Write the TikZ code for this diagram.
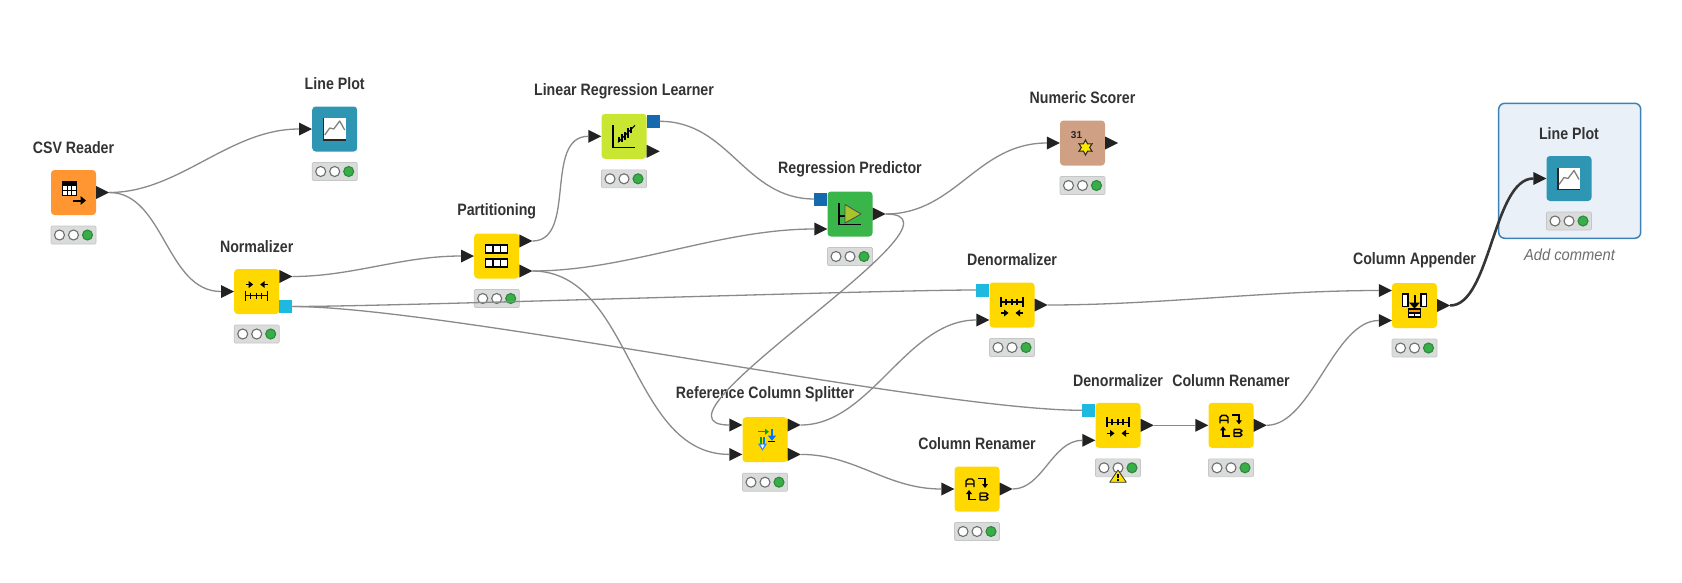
\documentclass[tikz,border=0pt]{standalone}
\usepackage{fontspec}
\setmainfont{Liberation Sans}
\newfontfamily\lblfont[FakeStretch=0.86]{Liberation Sans}
\newfontfamily\cmtfont[FakeStretch=0.92]{Liberation Sans}
\usetikzlibrary{shapes.geometric}
\definecolor{manip}{HTML}{FFD800}
\definecolor{reader}{HTML}{FF9632}
\definecolor{viewc}{HTML}{2E95B3}
\definecolor{learner}{HTML}{C8E632}
\definecolor{predictor}{HTML}{3AB54A}
\definecolor{scorer}{HTML}{CFA084}
\definecolor{flowlight}{HTML}{1EB9E0}
\definecolor{flowdark}{HTML}{1469AF}
\definecolor{portc}{HTML}{222222}
\definecolor{edgec}{HTML}{8A8A8A}
\definecolor{edgedark}{HTML}{353535}
\definecolor{labelc}{HTML}{333333}
\definecolor{statusbg}{HTML}{D9DCDB}
\definecolor{statusln}{HTML}{C4C7C6}
\definecolor{lampring}{HTML}{6E6E6E}
\definecolor{lampgreen}{HTML}{38AD4A}
\definecolor{selfill}{HTML}{E9F0F7}
\definecolor{selline}{HTML}{3C82B6}
\definecolor{cmtc}{HTML}{6E6E6E}
\tikzset{
  knode/.style={draw=none,rounded corners=3.5pt,minimum size=45pt,inner sep=0pt},
  nlabel/.style={font=\lblfont\bfseries\fontsize{16.5}{18}\selectfont,text=labelc,inner sep=0pt,anchor=center},
  conn/.style={draw=edgec,line width=1.3pt},
  connsel/.style={draw=edgedark,line width=2.6pt},
  statusbox/.style={fill=statusbg,draw=statusln,line width=.6pt,rounded corners=1pt},
  lampoff/.style={draw=lampring,fill=white,line width=1.1pt},
  lampon/.style={draw=lampgreen!80!black,fill=lampgreen,line width=1.1pt},
  ink/.style={draw=black,line width=1.5pt},
  inkthin/.style={draw=black,line width=1pt},
}
% node with label and status lamps
\newcommand{\knime}[5]{%
  \node[knode,fill=#4] (#1) at (#2,#3) {};
  \node[nlabel] (#1-label) at ([yshift=45pt]#1.center) {#5};
  \begin{scope}[shift={(#1.center)}]
    \draw[statusbox] (-22.5,33.5) rectangle (22.5,51.5);
    \draw[lampoff] (-14,42.5) circle (5);
    \draw[lampoff] (0,42.5) circle (5);
    \draw[lampon] (14,42.5) circle (5);
  \end{scope}}
\newcommand{\inport}[3]{%
  \coordinate (#1) at ([xshift=-13pt,yshift=#3]#2.west);
  \fill[portc] ([yshift=6.5pt]#1) -- ([yshift=-6.5pt]#1) -- ([xshift=13pt]#1) -- cycle;}
\newcommand{\outport}[3]{%
  \coordinate (#1) at ([xshift=13pt,yshift=#3]#2.east);
  \fill[portc] ([xshift=-13pt,yshift=6.5pt]#1) -- ([xshift=-13pt,yshift=-6.5pt]#1) -- (#1) -- cycle;}
\newcommand{\flowin}[4]{%
  \coordinate (#1) at ([xshift=-13pt,yshift=#3]#2.west);
  \fill[#4] ([yshift=6.5pt]#1) rectangle ([xshift=13pt,yshift=-6.5pt]#1);}
\newcommand{\flowout}[4]{%
  \coordinate (#1) at ([xshift=13pt,yshift=#3]#2.east);
  \fill[#4] ([yshift=6.5pt]#1) rectangle ([xshift=-13pt,yshift=-6.5pt]#1);}
\newcommand{\edge}[3]{\draw[conn] (#1) .. controls +(#3,0) and +(-#3,0) .. (#2);}
% icons
\newcommand{\lineploticon}[1]{\begin{scope}[shift={(#1.center)}]
  \fill[white] (-11,-11) rectangle (11,11);
  \draw[draw=black!85,line width=1.4pt] (-11,-11) -- (-11,11) -- (11,11);
  \draw[draw=black!50,line width=1.3pt,line join=round] (-10,6) -- (-5,-1) -- (-1,0) -- (5,-8) -- (10,1);
\end{scope}}
\newcommand{\normticks}[1]{%
  \draw[inkthin,line width=1.2pt] (-11,#1) -- (11,#1);
  \foreach \q in {-11,11} \draw[black,line width=1.3pt] (\q,#1-5) -- (\q,#1+5);
  \foreach \q in {-6,0,5} \draw[black,line width=1.5pt] (\q,#1-3) -- (\q,#1+3);}
\newcommand{\normarrows}[1]{%
  \draw[ink] (-11,#1) -- (-7,#1); \fill (-8,#1-3.5) -- (-3.5,#1) -- (-8,#1+3.5) -- cycle;
  \draw[ink] (11,#1) -- (7,#1); \fill (8,#1-3.5) -- (3.5,#1) -- (8,#1+3.5) -- cycle;}
\newcommand{\renamericon}[1]{\begin{scope}[shift={(#1.center)}]
  \draw[inkthin,line width=1.4pt,line join=round] (-11,-2) -- (-11,-8) -- (-9,-10) -- (-5,-10) -- (-3,-8) -- (-3,-2) (-11,-5) -- (-3,-5);
  \draw[inkthin,line width=1.4pt] (1,-10.5) -- (8,-10.5) -- (8,-4);
  \fill (5,-5) -- (11,-5) -- (8,-1) -- cycle;
  \draw[inkthin,line width=1.4pt] (-8,4) -- (-8,10.5) -- (-1,10.5);
  \fill (-11,5) -- (-5,5) -- (-8,1) -- cycle;
  \draw[inkthin,line width=1.4pt,line join=round] (3,4) -- (3,11) -- (9,11) -- (11,9.5) -- (9,7.5) -- (3,7.5) (9,7.5) -- (11,5.5) -- (9,4) -- (3,4);
\end{scope}}
\begin{document}
\begin{tikzpicture}[x=1pt,y=-1pt]
\useasboundingbox (0,0) rectangle (1682,582);
\fill[white] (0,0) rectangle (1682,582);
% selected node frame
\draw[fill=selfill,draw=selline,line width=1.5pt,rounded corners=6pt] (1498.7,103.3) rectangle (1640.7,238.3);
\node[font=\cmtfont\itshape\fontsize{16}{18}\selectfont,text=cmtc,inner sep=0pt] (comment) at (1569.5,255) {Add comment};

\knime{csv}{73.5}{192.5}{reader}{CSV Reader}
\knime{lp}{334.7}{129}{viewc}{Line Plot}
\knime{norm}{256.7}{291.5}{manip}{Normalizer}
\knime{part}{496.7}{256}{manip}{Partitioning}
\knime{lrl}{624}{136.3}{learner}{Linear Regression Learner}
\knime{pred}{850}{214}{predictor}{Regression Predictor}
\knime{score}{1082.5}{143}{scorer}{Numeric Scorer}
\knime{dn}{1012}{305}{manip}{Denormalizer}
\knime{split}{765}{439.7}{manip}{Reference Column Splitter}
\knime{crA}{977}{489}{manip}{Column Renamer}
\knime{dnB}{1118}{425.3}{manip}{Denormalizer}
\knime{crB}{1231}{425.3}{manip}{Column Renamer}
\knime{app}{1414.5}{305.5}{manip}{Column Appender}
\knime{lpB}{1569}{178.5}{viewc}{Line Plot}

% warning sign on the second denormalizer
\begin{scope}[shift={(dnB.center)}]
  \fill[draw=black!80,line width=.8pt,fill=yellow!85!orange,line join=round] (0,44.7) -- (8.3,57) -- (-8.3,57) -- cycle;
  \draw[black,line width=1.1pt] (0,48.5) -- (0,52.5) (0,54) -- (0,55.2);
\end{scope}

% connectors
\outport{csv-o}{csv}{0pt}
\inport{lp-i}{lp}{0pt}
\inport{norm-i}{norm}{0pt}
\outport{norm-o}{norm}{15pt}
\flowout{norm-f}{norm}{-15pt}{flowlight}
\inport{part-i}{part}{0pt}
\outport{part-a}{part}{15pt}
\outport{part-b}{part}{-15pt}
\inport{lrl-i}{lrl}{0pt}
\flowout{lrl-f}{lrl}{15pt}{flowdark}
\outport{lrl-o}{lrl}{-15pt}
\flowin{pred-f}{pred}{15pt}{flowdark}
\inport{pred-i}{pred}{-15pt}
\outport{pred-o}{pred}{0pt}
\inport{score-i}{score}{0pt}
\outport{score-o}{score}{0pt}
\flowin{dn-f}{dn}{15pt}{flowlight}
\inport{dn-i}{dn}{-15pt}
\outport{dn-o}{dn}{0pt}
\inport{split-a}{split}{14.7pt}
\inport{split-b}{split}{-14.7pt}
\outport{split-c}{split}{14.7pt}
\outport{split-d}{split}{-14.7pt}
\inport{crA-i}{crA}{0pt}
\outport{crA-o}{crA}{0pt}
\flowin{dnB-f}{dnB}{15pt}{flowlight}
\inport{dnB-i}{dnB}{-15pt}
\outport{dnB-o}{dnB}{0pt}
\inport{crB-i}{crB}{0pt}
\outport{crB-o}{crB}{0pt}
\inport{app-a}{app}{15pt}
\inport{app-b}{app}{-15pt}
\outport{app-o}{app}{0pt}
\inport{lpB-i}{lpB}{0pt}

\edge{csv-o}{lp-i}{70}
\edge{csv-o}{norm-i}{55}
\edge{norm-o}{part-i}{60}
\edge{norm-f}{dn-f}{100}
\edge{norm-f}{dnB-f}{150}
\edge{part-a}{lrl-i}{45}
\edge{part-b}{pred-i}{95}
\edge{part-b}{split-b}{100}
\edge{lrl-f}{pred-f}{70}
\edge{pred-o}{score-i}{70}
\edge{pred-o}{split-a}{100}
\edge{dn-o}{app-a}{110}
\edge{split-c}{dn-i}{70}
\edge{split-d}{crA-i}{55}
\edge{crA-o}{dnB-i}{30}
\edge{dnB-o}{crB-i}{8}
\edge{crB-o}{app-b}{45}
\draw[connsel] (app-o) .. controls +(40,0) and +(-40,0) .. (lpB-i);

% icons
\begin{scope}[shift={(csv.center)}]
  \fill[white] (-11,-11) rectangle (3,3);
  \fill[black] (-11,-11) rectangle (3,-7);
  \draw[inkthin] (-11,-11) rectangle (3,3) (-11,-2) -- (3,-2) (-6.3,-7) -- (-6.3,3) (-1.7,-7) -- (-1.7,3);
  \draw[black,line width=2pt] (-1,8) -- (8,8);
  \fill (7,3.5) -- (12.5,8) -- (7,12.5) -- cycle;
\end{scope}
\lineploticon{lp}
\lineploticon{lpB}
\begin{scope}[shift={(norm.center)}]\normarrows{-7}\normticks{4}\end{scope}
\begin{scope}[shift={(dn.center)}]\normticks{-3}\normarrows{8}\end{scope}
\begin{scope}[shift={(dnB.center)}]\normticks{-3}\normarrows{8}\end{scope}
\begin{scope}[shift={(part.center)}]
  \foreach \r in {-11,3}{
    \fill[white] (-11,\r) rectangle (11,\r+8);
    \draw[black,line width=1.4pt] (-11,\r) rectangle (11,\r+8) (-3.7,\r) -- (-3.7,\r+8) (3.7,\r) -- (3.7,\r+8);}
\end{scope}
\begin{scope}[shift={(lrl.center)}]
  \draw[black,line width=1.2pt] (-11,-11) -- (-11,11) -- (11,11);
  \draw[black,line width=1.1pt] (-6,6) -- (11,-11);
  \draw[black,line width=1.4pt] (-5,1) -- (-5,6) (-2,-2) -- (-2,6) (1,-4) -- (1,4) (4,-8) -- (4,2) (7,-9) -- (7,-3);
\end{scope}
\begin{scope}[shift={(pred.center)}]
  \draw[black,line width=1.2pt] (-11,-11) -- (-11,10.5) -- (11,10.5) (-11,2) -- (-5,2);
  \fill[draw=black!70,fill=learner!85!black,line width=.8pt,line join=round] (-5,-9.5) -- (11,0) -- (-5,9) -- cycle;
\end{scope}
\begin{scope}[shift={(score.center)}]
  \node[font=\fontsize{10}{10}\selectfont\bfseries,text=black!85,inner sep=0pt] (score-num) at (-6,-7.5) {31};
  \node[star,star points=6,star point ratio=1.8,minimum size=15pt,inner sep=0pt,fill=yellow!90!orange,draw=black!85,line width=1pt] (score-star) at (3,4.5) {};
\end{scope}
\begin{scope}[shift={(split.center)}]
  \draw[green!65!black,line width=1.5pt] (-7,-8) -- (1,-8);
  \fill[green!65!black] (0,-11) -- (4,-8) -- (0,-5) -- cycle;
  \draw[blue!55!cyan,line width=1.5pt] (7,-11) -- (7,-3);
  \fill[blue!55!cyan] (3,-4) -- (11,-4) -- (7,1) -- cycle;
  \draw[black,line width=1.2pt] (3,2) -- (10,2);
  \fill[green!65!black] (-5,-3) rectangle (-3,4);
  \fill[blue!55!cyan] (-2,-3) rectangle (0,4);
  \fill[blue!60!cyan!80!white] (-7,4) -- (2,4) -- (-2.5,11) -- cycle;
  \fill[white] (-4.5,5) -- (-.5,5) -- (-2.5,9) -- cycle;
\end{scope}
\renamericon{crA}
\renamericon{crB}
\begin{scope}[shift={(app.center)}]
  \foreach \q in {-12,6.5}{
    \fill[white] (\q,-11.5) rectangle (\q+5.5,1);
    \draw[black,line width=1.4pt] (\q,-11.5) rectangle (\q+5.5,1);}
  \draw[black,line width=2pt] (0,-10.5) -- (0,-2);
  \fill (-5.5,-3) -- (5.5,-3) -- (0,3) -- cycle;
  \fill[white] (-6,3.5) rectangle (6,11.5);
  \fill[orange!85!yellow] (-6,3.5) rectangle (6,7.5);
  \draw[black,line width=1.3pt] (-6,3.5) rectangle (6,11.5) (0,7.5) -- (0,11.5) (-6,7.5) -- (6,7.5);
\end{scope}
\end{tikzpicture}
\end{document}
